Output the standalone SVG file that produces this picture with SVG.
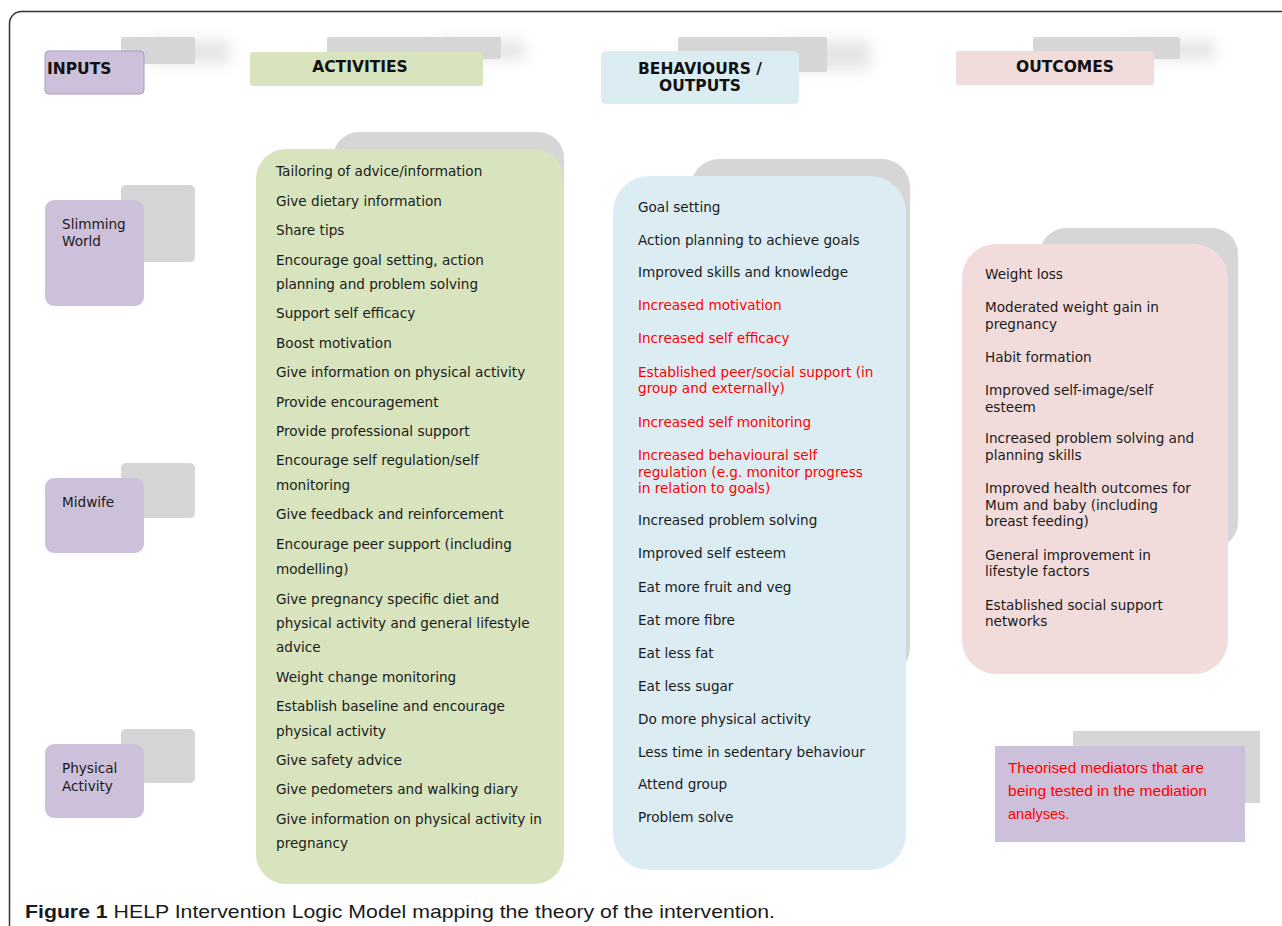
<svg xmlns="http://www.w3.org/2000/svg" width="1282" height="926" viewBox="0 0 1282 926">
<defs>
<style>
.t{font-family:"DejaVu Sans",Verdana,sans-serif;font-size:13.6px;fill:#1a1a1a}
.r{fill:#ff0000}
.h{font-family:"DejaVu Sans",Verdana,sans-serif;font-size:15.5px;font-weight:bold;fill:#111}
.sh{fill:#d6d6d6}
.fe{fill:#d0d0d0;opacity:0.55}
.pu{fill:#ccc0da}
.gr{fill:#d7e4bd}
.bl{fill:#dbedf3}
.pk{fill:#f2dcdb}
</style>
<filter id="blur" x="-50%" y="-100%" width="200%" height="300%"><feGaussianBlur stdDeviation="7"/></filter>
</defs>
<rect x="9.5" y="11.5" width="1320" height="960" rx="12" fill="#fff" stroke="#333" stroke-width="1.5"/>

<g id="header-inputs">
<rect class="fe" x="150" y="40" width="80" height="24" filter="url(#blur)"/>
<rect class="sh" x="121" y="37" width="74" height="27" rx="2"/>
<rect x="45" y="51" width="99" height="43" rx="4" fill="#ccc0da" stroke="#a899c0" stroke-width="1"/>
<text class="h" x="47" y="74">INPUTS</text>
</g>
<g id="header-activities">
<rect class="fe" x="440" y="40" width="85" height="20" filter="url(#blur)"/>
<rect class="sh" x="327" y="37" width="174" height="22" rx="2"/>
<rect class="gr" x="250" y="52" width="233" height="34" rx="3"/>
<text class="h" x="360" y="72" text-anchor="middle">ACTIVITIES</text>
</g>
<g id="header-behaviours">
<rect class="fe" x="780" y="40" width="90" height="30" filter="url(#blur)"/>
<rect class="sh" x="678" y="37" width="149" height="35" rx="2"/>
<rect class="bl" x="601" y="51" width="198" height="53" rx="5"/>
<text class="h" x="700" y="74" text-anchor="middle">BEHAVIOURS /</text>
<text class="h" x="700" y="91" text-anchor="middle">OUTPUTS</text>
</g>
<g id="header-outcomes">
<rect class="fe" x="1130" y="40" width="85" height="20" filter="url(#blur)"/>
<rect class="sh" x="1033" y="37" width="147" height="22" rx="2"/>
<rect class="pk" x="956" y="51" width="198" height="34" rx="3"/>
<text class="h" x="1065" y="72" text-anchor="middle">OUTCOMES</text>
</g>

<g id="input-slimming-world">
<rect class="sh" x="121" y="185" width="74" height="77" rx="5"/>
<rect class="pu" x="45" y="200" width="99" height="106" rx="9"/>
<text class="t" x="62" y="229">Slimming</text>
<text class="t" x="62" y="246">World</text>
</g>
<g id="input-midwife">
<rect class="sh" x="121" y="463" width="74" height="55" rx="5"/>
<rect class="pu" x="45" y="478" width="99" height="75" rx="9"/>
<text class="t" x="62" y="507">Midwife</text>
</g>
<g id="input-physical-activity">
<rect class="sh" x="121" y="729" width="74" height="54" rx="5"/>
<rect class="pu" x="45" y="744" width="99" height="74" rx="9"/>
<text class="t" x="62" y="773">Physical</text>
<text class="t" x="62" y="791">Activity</text>
</g>

<g id="activities">
<rect class="sh" x="333" y="132" width="231" height="300" rx="26"/>
<rect class="gr" x="256" y="149" width="308" height="735" rx="30"/>
<text class="t" x="276" y="176">Tailoring of advice/information</text>
<text class="t" x="276" y="206">Give dietary information</text>
<text class="t" x="276" y="235">Share tips</text>
<text class="t" x="276" y="265">Encourage goal setting, action</text>
<text class="t" x="276" y="289">planning and problem solving</text>
<text class="t" x="276" y="318">Support self efficacy</text>
<text class="t" x="276" y="348">Boost motivation</text>
<text class="t" x="276" y="377">Give information on physical activity</text>
<text class="t" x="276" y="407">Provide encouragement</text>
<text class="t" x="276" y="436">Provide professional support</text>
<text class="t" x="276" y="465">Encourage self regulation/self</text>
<text class="t" x="276" y="490">monitoring</text>
<text class="t" x="276" y="519">Give feedback and reinforcement</text>
<text class="t" x="276" y="549">Encourage peer support (including</text>
<text class="t" x="276" y="574">modelling)</text>
<text class="t" x="276" y="604">Give pregnancy specific diet and</text>
<text class="t" x="276" y="628">physical activity and general lifestyle</text>
<text class="t" x="276" y="652">advice</text>
<text class="t" x="276" y="682">Weight change monitoring</text>
<text class="t" x="276" y="711">Establish baseline and encourage</text>
<text class="t" x="276" y="736">physical activity</text>
<text class="t" x="276" y="765">Give safety advice</text>
<text class="t" x="276" y="794">Give pedometers and walking diary</text>
<text class="t" x="276" y="824">Give information on physical activity in</text>
<text class="t" x="276" y="848">pregnancy</text>
</g>

<g id="behaviours">
<rect class="sh" x="691" y="159" width="219" height="517" rx="28"/>
<rect class="bl" x="613" y="176" width="293" height="694" rx="36"/>
<text class="t" x="638" y="212">Goal setting</text>
<text class="t" x="638" y="245">Action planning to achieve goals</text>
<text class="t" x="638" y="277">Improved skills and knowledge</text>
<text class="t r" x="638" y="310">Increased motivation</text>
<text class="t r" x="638" y="343">Increased self efficacy</text>
<text class="t r" x="638" y="377">Established peer/social support (in</text>
<text class="t r" x="638" y="393">group and externally)</text>
<text class="t r" x="638" y="427">Increased self monitoring</text>
<text class="t r" x="638" y="460">Increased behavioural self</text>
<text class="t r" x="638" y="477">regulation (e.g. monitor progress</text>
<text class="t r" x="638" y="493">in relation to goals)</text>
<text class="t" x="638" y="525">Increased problem solving</text>
<text class="t" x="638" y="558">Improved self esteem</text>
<text class="t" x="638" y="592">Eat more fruit and veg</text>
<text class="t" x="638" y="625">Eat more fibre</text>
<text class="t" x="638" y="658">Eat less fat</text>
<text class="t" x="638" y="691">Eat less sugar</text>
<text class="t" x="638" y="724">Do more physical activity</text>
<text class="t" x="638" y="757">Less time in sedentary behaviour</text>
<text class="t" x="638" y="789">Attend group</text>
<text class="t" x="638" y="822">Problem solve</text>
</g>

<g id="outcomes">
<rect class="sh" x="1040" y="228" width="198" height="320" rx="26"/>
<rect class="pk" x="962" y="244" width="266" height="430" rx="34"/>
<text class="t" x="985" y="279">Weight loss</text>
<text class="t" x="985" y="312">Moderated weight gain in</text>
<text class="t" x="985" y="329">pregnancy</text>
<text class="t" x="985" y="362">Habit formation</text>
<text class="t" x="985" y="395">Improved self-image/self</text>
<text class="t" x="985" y="412">esteem</text>
<text class="t" x="985" y="443">Increased problem solving and</text>
<text class="t" x="985" y="460">planning skills</text>
<text class="t" x="985" y="493">Improved health outcomes for</text>
<text class="t" x="985" y="510">Mum and baby (including</text>
<text class="t" x="985" y="526">breast feeding)</text>
<text class="t" x="985" y="560">General improvement in</text>
<text class="t" x="985" y="576">lifestyle factors</text>
<text class="t" x="985" y="610">Established social support</text>
<text class="t" x="985" y="626">networks</text>
</g>

<g id="legend">
<rect class="sh" x="1073" y="731" width="187" height="72"/>
<rect class="pu" x="995" y="746" width="250" height="96"/>
<g font-family="'Liberation Sans',Arial,sans-serif" font-size="14.5" fill="#ff0000">
<text x="1008" y="773" textLength="196" lengthAdjust="spacingAndGlyphs">Theorised mediators that are</text>
<text x="1008" y="796" textLength="199" lengthAdjust="spacingAndGlyphs">being tested in the mediation</text>
<text x="1008" y="819">analyses.</text>
</g>
</g>

<g id="connectors"></g>

<text x="25" y="918" font-family="'Liberation Sans',Arial,sans-serif" font-size="19" fill="#1a1a1a" textLength="750" lengthAdjust="spacingAndGlyphs"><tspan font-weight="bold">Figure 1</tspan> HELP Intervention Logic Model mapping the theory of the intervention.</text>
</svg>
